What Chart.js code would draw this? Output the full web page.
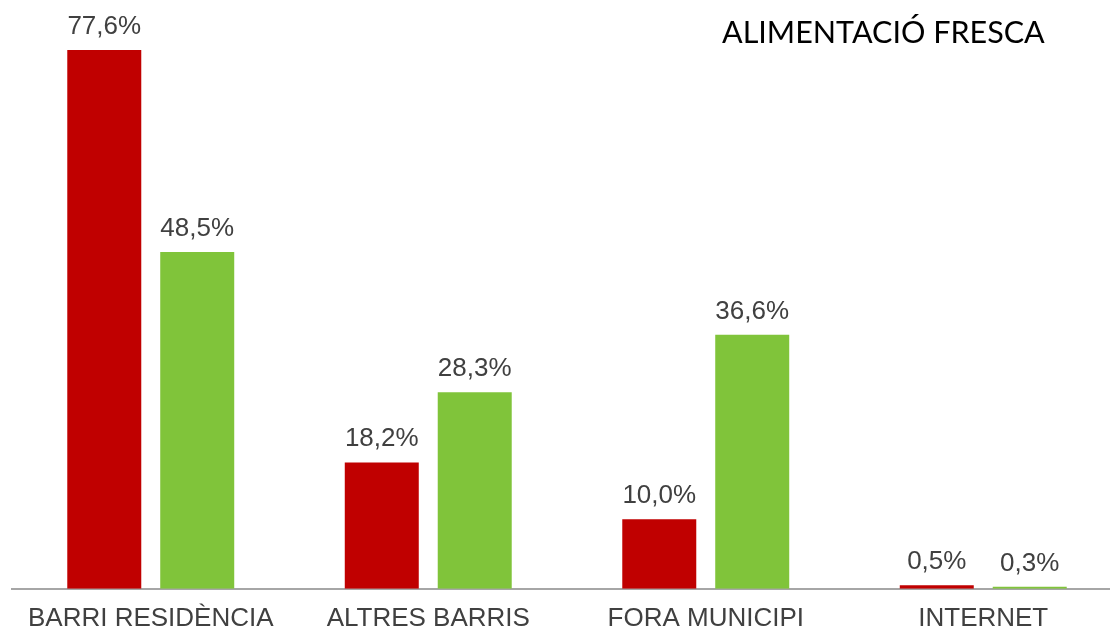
<!DOCTYPE html>
<html>
<head>
<meta charset="utf-8">
<script src="https://cdn.jsdelivr.net/npm/chart.js@4"></script>
<style>
  html, body { margin: 0; padding: 0; background: #fff; overflow: hidden; }
  #wrap { position: relative; width: 1122px; height: 636px; }
</style>
</head>
<body>
<div id="wrap"><canvas id="chart"></canvas></div>
<script>
// --- DATA ---
const categories = ['BARRI RESIDÈNCIA', 'ALTRES BARRIS', 'FORA MUNICIPI', 'INTERNET'];
const seriesRed = [77.6, 18.2, 10.0, 0.5];
const seriesGreen = [48.5, 28.3, 36.6, 0.3];
const chartTitle = 'ALIMENTACIÓ FRESCA';

const fmt = v => v.toFixed(1).replace('.', ',') + '%';

// value labels above each bar + title text
const labelsPlugin = {
    id: 'valueLabels',
    afterDatasetsDraw(chart) {
        const ctx = chart.ctx;
        ctx.save();
        ctx.font = '26px "Liberation Sans", Arial, sans-serif';
        ctx.fillStyle = '#404040';
        ctx.textAlign = 'center';
        ctx.textBaseline = 'alphabetic';
        chart.data.datasets.forEach((ds, i) => {
            chart.getDatasetMeta(i).data.forEach((bar, j) => {
                ctx.fillText(fmt(ds.data[j]), bar.x, bar.y - 16);
            });
        });
        ctx.font = '30.5px "Lato", "Open Sans", sans-serif';
        ctx.fillStyle = '#000';
        ctx.textAlign = 'left';
        ctx.textBaseline = 'middle';
        ctx.fillText(chartTitle, 722, 33);
        ctx.restore();
    }
};

new Chart(document.getElementById('chart'), {
    type: 'bar',
    data: {
        labels: categories,
        datasets: [
            { data: seriesRed, backgroundColor: '#C00000' },
            { data: seriesGreen, backgroundColor: '#80C43A' }
        ]
    },
    options: {
        responsive: true,
        maintainAspectRatio: false,
        animation: false,
        layout: { padding: { left: 12, right: 0, top: 0, bottom: -12 } },
        datasets: { bar: { categoryPercentage: 0.67, barPercentage: 0.796 } },
        plugins: { legend: { display: false }, tooltip: { enabled: false } },
        scales: {
            x: {
                grid: { display: false, drawTicks: false, tickLength: 0 },
                border: { color: '#A6A6A6', width: 2 },
                ticks: {
                    color: '#404040',
                    padding: 14,
                    font: { family: '"Liberation Sans", Arial, sans-serif', size: 26 }
                }
            },
            y: {
                display: false,
                min: 0,
                max: 84.8
            }
        }
    },
    plugins: [labelsPlugin]
});
</script>
</body>
</html>
